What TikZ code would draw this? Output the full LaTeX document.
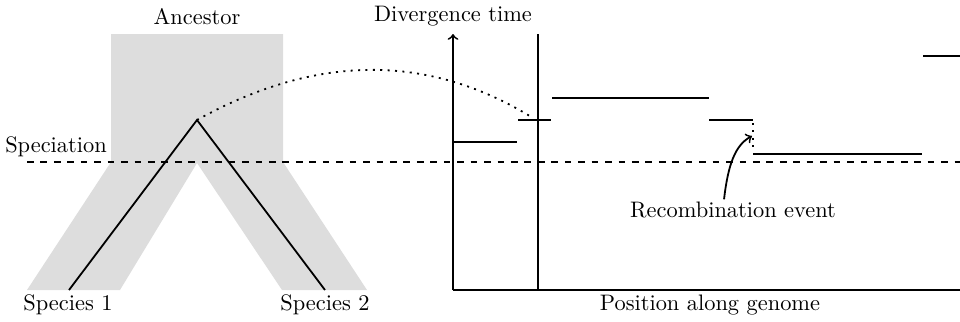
\documentclass[tikz,border=0pt]{standalone}
\usetikzlibrary{positioning}

\begin{document}
\begin{tikzpicture}[
    x=0.01568cm, y=-0.01568cm,
    pop/.style={fill=gray!27, draw=none},
    lineage/.style={thick},
    seg/.style={thick},
    dots/.style={thick, dash pattern=on 0.9pt off 2.4pt},
    label/.style={inner sep=1pt},
    >=to
]
\useasboundingbox (0,0) rectangle (960,321);

% Ancestral population and the two daughter species
\fill[pop] (111,34) -- (283,34) -- (283,162) -- (367,290) -- (282,290)
  -- (197,163) -- (120,290) -- (27,290) -- (111,162) -- cycle;

% Gene tree
\coordinate (apex) at (197,120);
\coordinate (leaf1) at (69,290);
\coordinate (leaf2) at (325,290);
\draw[lineage] (leaf1) -- (apex) -- (leaf2);

\node[label] (anc) at (197,17) {Ancestor};
\node[label] (sp1) at (68,305) {Species 1};
\node[label] (sp2) at (325,305) {Species 2};

% Speciation time
\node[label] (spec) at (56,147) {Speciation};
\draw[thick, dashed] (27,162) -- (960,162);

% Axes
\coordinate (origin) at (453,290);
\coordinate (ytop) at (453,34);
\draw[thick,->] (origin) -- (ytop);
\draw[thick] (origin) -- (960,290);
\draw[thick] (538,34) -- (538,290);
\node[label] (ylab) at (453,16) {Divergence time};
\node[label] (xlab) at (710,305) {Position along genome};

% Divergence time along the genome
\foreach \xa/\xb/\y in {453/517/142, 518/551/120, 552/709/98, 709/753/120, 753/922/154, 923/960/56}
  \draw[seg] (\xa,\y) -- (\xb,\y);
\draw[dots] (753,123) -- (753,152);

% Link from the gene tree
\coordinate (gt) at (533,118);
\draw[dots] (apex) .. controls (316,54) and (428,53) .. (gt);

% Recombination event
\coordinate (recomb) at (752,136);
\node[label] (rec) at (733,210) {Recombination event};
\draw[thick,->] ([xshift=-4]rec.north) .. controls (728,165) and (735,145) .. (recomb);

\end{tikzpicture}
\end{document}
